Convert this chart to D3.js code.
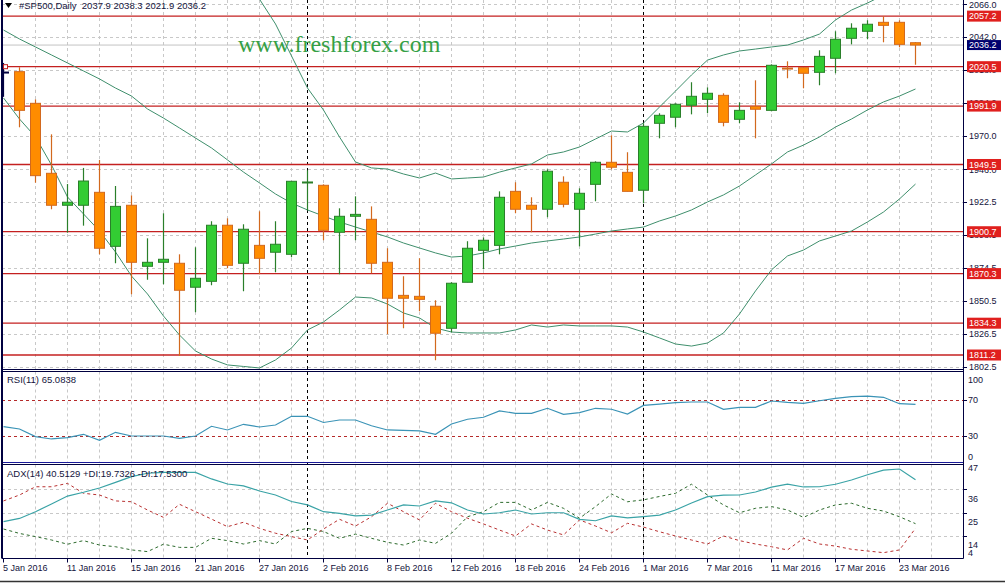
<!DOCTYPE html>
<html><head><meta charset="utf-8">
<script src="https://cdn.jsdelivr.net/npm/d3@7"></script>
<style>
body{margin:0;background:#fff}
svg{display:block}
text{font-family:"Liberation Sans",Arial,sans-serif}
</style>
</head><body>
<svg id="c" width="1005" height="583"></svg>
<script>
// ---------------- data ----------------
const symbolTitle = "#SP500,Daily  2037.9 2038.3 2021.9 2036.2";
const rsiTitle = "RSI(11) 65.0838";
const adxTitle = "ADX(14) 40.5129 +DI:19.7326 -DI:17.5300";
const watermark = "www.freshforex.com";

const opens  = [2016.6,2016.9,1993.9,1943.1,1919.9,1919.9,1929.3,1890.1,1919.9,1875.6,
                1878.5,1877.8,1860.4,1864.7,1905.4,1877.8,1890.8,1885.8,1884.3,1936.3,
                1934.4,1900.3,1911.9,1909.7,1878.5,1854.5,1853.8,1846.6,1830.6,1864.0,
                1887.2,1890.8,1930.0,1919.9,1917.0,1936.6,1917.0,1935.1,1951.1,1943.8,
                1930.8,1979.4,1983.8,1992.5,1996.8,1999.7,1982.3,1991.7,1988.8,2019.5,
                2019.8,2016.4,2026.6,2041.1,2046.2,2052.7,2052.7,2037.9];
const highs  = [2023.2,2020.1,1996.8,1971.4,1935.3,1947.0,1952.8,1933.9,1927.1,1895.9,
                1914.1,1884.3,1889.4,1908.3,1910.4,1906.1,1915.5,1908.3,1937.3,1945.3,
                1935.1,1917.7,1926.4,1919.1,1888.7,1868.3,1881.4,1850.9,1864.0,1893.8,
                1896.6,1930.0,1936.6,1925.7,1946.0,1940.9,1932.2,1951.8,1970.7,1958.4,
                1979.4,1986.7,1993.9,2009.2,2005.5,2001.2,1994.6,2010.6,2022.2,2024.4,
                2019.8,2032.4,2046.2,2052.0,2054.2,2057.1,2054.2,2038.3];
const lows   = [1998.6,1976.5,1936.3,1917.0,1900.0,1905.1,1884.3,1877.8,1855.3,1865.9,
                1862.5,1810.5,1842.2,1861.8,1874.1,1857.5,1869.8,1871.2,1882.1,1916.2,
                1894.5,1869.8,1894.5,1870.5,1826.2,1830.6,1842.9,1807.4,1827.7,1864.0,
                1873.4,1884.3,1914.1,1900.3,1911.2,1918.4,1890.1,1922.8,1946.0,1930.0,
                1921.3,1968.5,1976.5,1985.9,1986.7,1977.2,1979.4,1968.5,1988.1,2012.1,
                2004.8,2007.0,2015.7,2036.7,2040.4,2038.2,2034.6,2021.9];
const closes = [2016.6,1988.8,1941.4,1919.9,1922.1,1937.5,1888.7,1919.1,1878.5,1878.5,
                1880.7,1858.2,1866.9,1905.4,1876.3,1902.5,1881.4,1891.6,1937.3,1936.8,
                1901.7,1911.9,1913.3,1877.8,1852.4,1852.4,1851.6,1827.0,1863.3,1888.7,
                1894.5,1925.7,1917.0,1917.0,1944.6,1920.6,1928.6,1951.1,1947.5,1930.0,
                1977.2,1985.2,1993.2,1999.0,2001.2,1980.1,1988.8,1989.6,2021.5,2019.2,
                2015.7,2028.0,2040.4,2048.4,2051.3,2050.5,2036.7,2036.2];

const bbUpper  = [2094,2094,2093,2095,2097,2098,2099,2100,2102,2103,
                  2102,2100,2099,2097,2095,2092,2069.5,2051.5,2028.3,2005,
                  1989,1969.5,1951.3,1947,1946.2,1942.6,1939.7,1943.3,1939,1939.7,
                  1940.4,1944,1947,1949.9,1956.4,1958.6,1962.2,1968,1973.8,1973.1,
                  1979.6,1991.2,2002.8,2014.5,2025.3,2029,2031.9,2033.3,2034.8,2036.2,
                  2039.9,2044.2,2054.4,2061.6,2066.7,2072.5,2078,2085];
const bbMiddle = [2047.1,2040.6,2034.8,2029,2023.2,2017.4,2011.6,2005,1999.2,1989.8,
                  1983.2,1976,1968.7,1961.5,1952.8,1944,1936.1,1928.1,1921.5,1916.5,
                  1912.1,1907.8,1904.1,1900.5,1896.9,1892.5,1888.9,1885.3,1882.3,1883.1,
                  1885.3,1888.2,1890.3,1892.5,1894,1895.4,1896.9,1899,1901.2,1902.7,
                  1904.1,1908.5,1912.1,1916.5,1922.3,1927.4,1933.9,1941.9,1949.9,1958.6,
                  1963.6,1969.5,1976.7,1982.5,1989.1,1994.9,1999.2,2004.3];
const bbLower  = [1997.8,1982.5,1969.5,1949.1,1925.9,1913.6,1901.2,1886,1868.5,1855.5,
                  1839.5,1825.7,1814.1,1808.3,1804,1802.9,1801.8,1807.6,1816.3,1829.4,
                  1835.2,1843.9,1853.3,1852.6,1848.2,1841.7,1838.1,1830.8,1827.9,1827.2,
                  1827.2,1827.2,1829.4,1833,1831.5,1833,1832.3,1832.3,1832.3,1831.5,
                  1827.9,1823.6,1819.2,1817.7,1819.9,1827.2,1841,1857.7,1873,1883.1,
                  1887.4,1894,1897.6,1901.2,1907.8,1915,1924.5,1935.3];

const rsiValues = [40.5,37.8,29.3,26.7,28.1,31.9,25.2,34.1,30,30,
                   30,27.4,30,40.8,36.7,43,40,42.2,51.9,51.9,
                   45,47.8,47.8,41.4,36.7,36.3,35.6,31.9,43.3,48.6,
                   50.8,57.8,55.2,55.2,60.8,54.1,55.9,60.8,59.7,54.4,
                   64,65.4,67,67.8,67.8,59.7,61.9,61.9,68.9,67.4,
                   66.3,69.2,71.9,73.7,74.4,73,65.9,65.08];
const adxValues = [20.7,22.2,25.4,29,32.8,34.6,36.6,39.3,42,43.6,
                   44,44,44,40.9,38.5,37.6,35.2,33.3,30.2,28.6,
                   25.4,24.6,23.4,23.8,26.2,28.6,28.1,30.5,29.6,26.2,
                   24.3,24.9,26.2,24.3,24.9,24.9,21.8,21.1,23.4,22.5,
                   23.1,23.8,26.2,29.5,32.5,33.2,33.3,34.7,37,38.4,
                   37.1,37.2,38.4,40.4,42.9,45.1,45.6,40.51];
const plusDI   = [17.2,15.1,13.6,12,10,11.7,9.6,8.8,7.3,6.5,
                  10,8.5,8.5,12.8,11.7,10.1,11.7,10.1,16,17.5,
                  16,12.8,14.8,12.8,10.9,9.6,12,10.4,15.2,23,
                  25.4,29.8,29.8,26.2,29.8,27,22.3,27.8,33.8,30.1,
                  31,32.6,34.1,38.4,33.3,28.6,24.9,27,27.8,26.2,
                  22.7,26.2,28.6,29.4,27,25.7,23,19.73];
const minusDI  = [30.5,33.3,37.2,37.2,38.8,34.1,33.3,30.5,30.1,26.2,
                  22.7,28.9,25.4,21.9,18.3,20.4,17.5,15.2,13.6,12,
                  17.2,21.8,18.6,23,29.4,25.4,21.5,29.4,25.4,22.3,
                  19.6,16.7,13.9,19.6,16.7,14.4,21.5,18.6,15.4,19.9,
                  18.1,15.9,13.9,12,10.1,13.9,11.7,10.1,8.8,7.3,
                  12.8,10.1,9.1,7.6,6.8,6,7.3,17.53];

const levels = [2057.2,2020.5,1991.9,1949.5,1900.7,1870.3,1834.3,1811.2];
const lastPrice = 2036.2;
const priceTicks = [2066.0,2042.0,2018.0,1994.0,1970.0,1946.0,1922.5,1898.5,1874.5,1850.5,1826.5,1802.5];
const rsiTicks = [100,70,30,0];
const rsiLevels = [70,30];
const adxTicks = [47,36,25,14,4];
const dateLabels = ["5 Jan 2016","11 Jan 2016","15 Jan 2016","21 Jan 2016","27 Jan 2016",
                    "2 Feb 2016","8 Feb 2016","12 Feb 2016","18 Feb 2016","24 Feb 2016",
                    "1 Mar 2016","7 Mar 2016","11 Mar 2016","17 Mar 2016","23 Mar 2016"];
const dateLabelEvery = 4;
const monthStartBars = [19,40];

// ---------------- layout ----------------
const svg = d3.select("#c");
const L = 2, R = 963;
const main = {top:0, bottom:369.5};
const rsiP = {top:371.5, bottom:462.5};
const adxP = {top:464.5, bottom:558.5};
const navy = "#000040";
const textCol = "#14143c";
const AX = "9px", TT = "9.5px";

const x = d3.scaleLinear().domain([0,60]).range([3.5, 963.5]);
const y = d3.scaleLinear().domain([1802.5,2066]).range([367,4]);
const yR = d3.scaleLinear().domain([0,100]).range([463,373]);
const yA = d3.scaleLinear().domain([3,47.5]).range([559,465]);
const nBars = closes.length;
const idx = d3.range(nBars);

const defs = svg.append("defs");
function clip(id, p){ defs.append("clipPath").attr("id",id).append("rect")
  .attr("x",L).attr("y",p.top).attr("width",R-L).attr("height",p.bottom-p.top); }
clip("cm",main); clip("cr",rsiP); clip("ca",adxP);

const gridCol = "#c8c8c8";
[main,rsiP,adxP].forEach(p=>{
  svg.append("g").selectAll("line").data(d3.range(2,60,2)).join("line")
    .attr("x1",d=>x(d)).attr("x2",d=>x(d)).attr("y1",p.top).attr("y2",p.bottom)
    .attr("stroke",gridCol).attr("stroke-dasharray","3,3");
});
svg.append("g").selectAll("line").data(priceTicks).join("line")
  .attr("x1",L).attr("x2",R).attr("y1",d=>Math.round(y(d))+0.5).attr("y2",d=>Math.round(y(d))+0.5)
  .attr("stroke",gridCol).attr("stroke-dasharray","3,3");
svg.append("g").selectAll("line").data(adxTicks.slice(1,-1)).join("line")
  .attr("x1",L).attr("x2",R).attr("y1",d=>Math.round(yA(d))+0.5).attr("y2",d=>Math.round(yA(d))+0.5)
  .attr("stroke",gridCol).attr("stroke-dasharray","3,3");

svg.append("g").selectAll("line").data(monthStartBars).join("line")
  .attr("x1",d=>x(d)).attr("x2",d=>x(d)).attr("y1",0).attr("y2",adxP.bottom)
  .attr("stroke","#000").attr("stroke-dasharray","3,3");

const gm = svg.append("g").attr("clip-path","url(#cm)");
gm.append("line").attr("x1",L).attr("x2",R).attr("y1",y(lastPrice)).attr("y2",y(lastPrice))
  .attr("stroke","#c4c4c4");
gm.append("g").selectAll("line").data(levels).join("line")
  .attr("x1",L).attr("x2",R).attr("y1",d=>y(d)).attr("y2",d=>y(d))
  .attr("stroke","#c42020").attr("stroke-width",1.3);

svg.append("text").attr("x",238).attr("y",52).text(watermark)
  .style("font-family","'Liberation Serif','Times New Roman',serif").style("font-size","24px")
  .attr("fill","#35a045");

const bbCol = "#3f8f6c";
[bbUpper,bbMiddle,bbLower].forEach(arr=>{
  gm.append("path").datum(idx)
    .attr("d",d3.line().x(i=>x(i)).y(i=>y(arr[i])))
    .attr("fill","none").attr("stroke",bbCol).attr("stroke-width",1);
});

const upFill="#33cc33", upLine="#2a7f2a", dnFill="#ff8c00", dnLine="#d2691e";
const cg = gm.append("g").selectAll("g").data(idx).join("g");
function colLine(i){ return closes[i]>opens[i]?upLine:(closes[i]<opens[i]?dnLine:navy); }
cg.append("line").attr("x1",i=>x(i)).attr("x2",i=>x(i))
  .attr("y1",i=>y(highs[i])).attr("y2",i=>y(lows[i]))
  .attr("stroke",colLine).attr("stroke-width",1.2);
cg.append("rect")
  .attr("x",i=>x(i)-5).attr("width",10)
  .attr("y",i=>y(Math.max(opens[i],closes[i])))
  .attr("height",i=>Math.max(1,Math.abs(y(opens[i])-y(closes[i]))))
  .attr("fill",i=>closes[i]>opens[i]?upFill:(closes[i]<opens[i]?dnFill:"none"))
  .attr("stroke",colLine).attr("stroke-width",1);

svg.append("rect").attr("x",3.5).attr("y",y(levels[1])-2).attr("width",4).attr("height",4)
  .attr("fill","#fff").attr("stroke","#c42020");

// RSI
const gr = svg.append("g").attr("clip-path","url(#cr)");
gr.append("g").selectAll("line").data(rsiLevels).join("line")
  .attr("x1",L).attr("x2",R).attr("y1",d=>Math.round(yR(d))+0.5).attr("y2",d=>Math.round(yR(d))+0.5)
  .attr("stroke","#b52a2a").attr("stroke-dasharray","3,3");
gr.append("path").datum(idx).attr("d",d3.line().x(i=>x(i)).y(i=>yR(rsiValues[i])))
  .attr("fill","none").attr("stroke","#3a93b6").attr("stroke-width",1.2);

// ADX
const ga = svg.append("g").attr("clip-path","url(#ca)");
ga.append("path").datum(idx).attr("d",d3.line().x(i=>x(i)).y(i=>yA(plusDI[i])))
  .attr("fill","none").attr("stroke","#2c6a2c").attr("stroke-dasharray","3,3");
ga.append("path").datum(idx).attr("d",d3.line().x(i=>x(i)).y(i=>yA(minusDI[i])))
  .attr("fill","none").attr("stroke","#b83030").attr("stroke-dasharray","3,3");
ga.append("path").datum(idx).attr("d",d3.line().x(i=>x(i)).y(i=>yA(adxValues[i])))
  .attr("fill","none").attr("stroke","#3aa3a6").attr("stroke-width",1.2);

// frames
function hline(yy, col){ svg.append("line").attr("x1",L).attr("x2",R+0.5).attr("y1",yy).attr("y2",yy).attr("stroke",col||navy); }
hline(main.bottom); hline(rsiP.top); hline(rsiP.bottom,"#1a1a9a"); hline(adxP.top); hline(adxP.bottom);
svg.append("line").attr("x1",L).attr("x2",L).attr("y1",0).attr("y2",adxP.bottom).attr("stroke",navy).attr("stroke-width",2);
svg.append("line").attr("x1",R+0.5).attr("x2",R+0.5).attr("y1",0).attr("y2",adxP.bottom).attr("stroke",navy).attr("stroke-width",1);

// price axis
const axG = svg.append("g");
axG.selectAll("line.t").data(priceTicks).join("line").attr("class","t")
  .attr("x1",R).attr("x2",R+4).attr("y1",d=>Math.round(y(d))+0.5).attr("y2",d=>Math.round(y(d))+0.5).attr("stroke",navy);
axG.selectAll("text").data(priceTicks).join("text")
  .attr("x",969).attr("y",d=>Math.max(4.5,y(d))).attr("dy","0.36em").text(d=>d.toFixed(1))
  .attr("fill",textCol).style("font-size",AX);

const lg = svg.append("g").selectAll("g").data(levels).join("g");
lg.append("rect").attr("x",967).attr("width",34).attr("y",d=>y(d)-5.5).attr("height",11).attr("fill","#e0201e");
lg.append("text").attr("x",969).attr("y",d=>y(d)).attr("dy","0.36em").text(d=>d.toFixed(1))
  .attr("fill","#fff").style("font-size",AX);
svg.append("rect").attr("x",967).attr("width",34).attr("y",y(lastPrice)-5).attr("height",10).attr("fill","#00006e");
svg.append("text").attr("x",969).attr("y",y(lastPrice)).attr("dy","0.36em").text(lastPrice.toFixed(1))
  .attr("fill","#fff").style("font-size",AX);

// RSI axis
svg.append("g").selectAll("text").data(rsiTicks).join("text")
  .attr("x",968).attr("y",d=>Math.max(rsiP.top+8,Math.min(rsiP.bottom-6,yR(d)))).attr("dy","0.36em")
  .text(d=>d).attr("fill",textCol).style("font-size",AX);
svg.append("g").selectAll("line").data(rsiLevels).join("line")
  .attr("x1",R).attr("x2",R+4).attr("y1",d=>Math.round(yR(d))+0.5).attr("y2",d=>Math.round(yR(d))+0.5).attr("stroke",navy);

// ADX axis
svg.append("g").selectAll("text").data(adxTicks).join("text")
  .attr("x",968).attr("y",(d,i)=> i===0?adxP.top+3:(i===adxTicks.length-1?adxP.bottom-6:yA(d)+9)).attr("dy","0.36em")
  .text(d=>d).attr("fill",textCol).style("font-size",AX);
svg.append("g").selectAll("line").data(adxTicks.slice(1,-1)).join("line")
  .attr("x1",R).attr("x2",R+4).attr("y1",d=>Math.round(yA(d))+0.5).attr("y2",d=>Math.round(yA(d))+0.5).attr("stroke",navy);

// date axis
const dg = svg.append("g").selectAll("g").data(dateLabels).join("g");
dg.append("line").attr("x1",(d,i)=>x(i*dateLabelEvery)).attr("x2",(d,i)=>x(i*dateLabelEvery))
  .attr("y1",adxP.bottom).attr("y2",adxP.bottom+4).attr("stroke",navy);
dg.append("text").attr("x",(d,i)=>x(i*dateLabelEvery)-0.5).attr("y",568).attr("dy","0.36em")
  .text(d=>d).attr("fill",textCol).style("font-size",AX);

svg.append("line").attr("x1",0).attr("x2",1005).attr("y1",581.5).attr("y2",581.5).attr("stroke","#333").attr("stroke-width",1.5);

// titles
svg.append("path").attr("d","M5,3L12,3L8.5,8Z").attr("fill","#000");
svg.append("text").attr("x",19).attr("y",6).attr("dy","0.36em").text(symbolTitle)
  .attr("fill",textCol).style("font-size",TT).style("white-space","pre");
svg.append("text").attr("x",7).attr("y",380).attr("dy","0.36em").text(rsiTitle)
  .attr("fill",textCol).style("font-size",TT);
svg.append("text").attr("x",7).attr("y",474).attr("dy","0.36em").text(adxTitle)
  .attr("fill",textCol).style("font-size",TT);
</script>
</body></html>
